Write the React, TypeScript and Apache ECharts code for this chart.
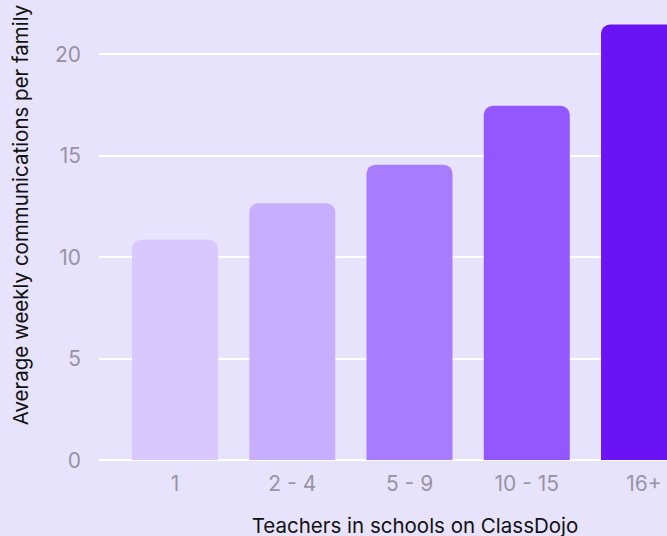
import React, { useEffect, useRef } from "react";
import * as echarts from "echarts";

const categories = ["1", "2 - 4", "5 - 9", "10 - 15", "16+"];
const values = [10.85, 12.65, 14.55, 17.45, 21.45];
const barColors = ["#d9c8ff", "#c8aeff", "#a77cff", "#9257ff", "#6a14f5"];
const yTicks = [0, 5, 10, 15, 20];
const yTitle = "Average weekly communications per family";
const xTitle = "Teachers in schools on ClassDojo";

export default function App() {
  const ref = useRef<HTMLDivElement>(null);
  useEffect(() => {
    document.body.style.margin = "0";
    const chart = echarts.init(ref.current!, null, { renderer: "svg" });
    const font = "Inter, 'Noto Sans', sans-serif";
    chart.setOption({
      animation: false,
      backgroundColor: "#e8e3fc",
      grid: [
        { left: 99, right: 0, top: 54, bottom: 76, outerBoundsMode: "none" },
        { left: 116.4, width: 586.25, top: 54, bottom: 76, outerBoundsMode: "none" },
      ],
      xAxis: [
        { type: "category", gridIndex: 0, data: [""], show: false },
        {
          type: "category",
          gridIndex: 1,
          data: categories,
          axisLine: { show: false },
          axisTick: { show: false },
          axisLabel: { color: "#9793a3", fontSize: 21, fontFamily: font, margin: 13, hideOverlap: false },
        },
      ],
      yAxis: [
        {
          type: "value",
          gridIndex: 0,
          min: yTicks[0],
          max: yTicks[yTicks.length - 1],
          interval: 5,
          axisLine: { show: false },
          axisTick: { show: false },
          axisLabel: { color: "#9793a3", fontSize: 21, fontFamily: font, margin: 18 },
          splitLine: { lineStyle: { color: "#ffffff", width: 2 } },
        },
        {
          type: "value",
          gridIndex: 1,
          min: yTicks[0],
          max: yTicks[yTicks.length - 1],
          interval: 5,
          show: false,
          splitLine: { show: false },
        },
      ],
      series: [
        {
          type: "bar",
          xAxisIndex: 1,
          yAxisIndex: 1,
          barWidth: 86,
          clip: false,
          data: values.map((v, i) => ({
            value: v,
            itemStyle: { color: barColors[i], borderRadius: [9, 9, 0, 0] },
          })),
        },
      ],
      graphic: [
        {
          type: "text",
          x: 20,
          y: 215,
          rotation: Math.PI / 2,
          style: {
            text: yTitle,
            fill: "#111111",
            font: `20.5px ${font}`,
            align: "center",
            verticalAlign: "middle",
          },
        },
        {
          type: "text",
          x: 415,
          y: 525,
          style: {
            text: xTitle,
            fill: "#111111",
            font: `20.5px ${font}`,
            align: "center",
            verticalAlign: "middle",
          },
        },
      ],
    });
    return () => chart.dispose();
  }, []);
  return <div ref={ref} style={{ width: 667, height: 536 }} />;
}
